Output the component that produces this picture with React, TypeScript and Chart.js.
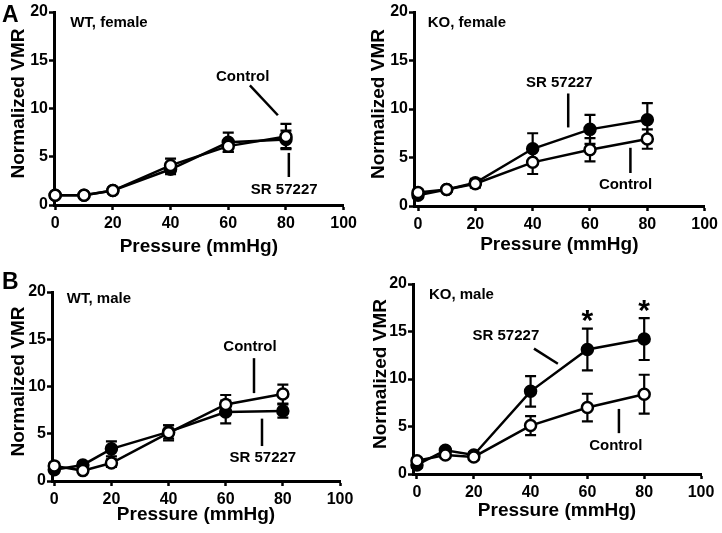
import React, { useEffect, useRef } from "react";
import { Chart, registerables } from "chart.js";

Chart.register(...registerables);

const FONT = '"Liberation Sans", Arial, Helvetica, sans-serif';

// ---- data ----
const pressure = [0, 10, 20, 40, 60, 80];
const xTickValues = [0, 20, 40, 60, 80, 100];
const yTickValues = [0, 5, 10, 15, 20];

const wtFemaleControl = [1.0, 1.0, 1.5, 4.1, 6.1, 7.1];
const wtFemaleControlSem = [0.2, 0.2, 0.3, 0.7, 0.6, 1.3];
const wtFemaleSR = [1.0, 1.0, 1.5, 3.7, 6.5, 6.8];
const wtFemaleSRSem = [0.2, 0.2, 0.2, 0.5, 1.0, 0.9];

const koFemaleControl = [1.4, 1.7, 2.3, 4.5, 5.8, 6.9];
const koFemaleControlSem = [0.3, 0.2, 0.4, 1.2, 1.2, 1.0];
const koFemaleSR = [1.1, 1.7, 2.4, 5.9, 7.9, 8.9];
const koFemaleSRSem = [0.3, 0.2, 0.4, 1.6, 1.5, 1.7];

const wtMaleControl = [1.6, 1.1, 1.9, 5.1, 8.1, 9.2];
const wtMaleControlSem = [0.3, 0.2, 0.4, 0.8, 1.0, 1.0];
const wtMaleSR = [1.2, 1.7, 3.4, 5.2, 7.3, 7.4];
const wtMaleSRSem = [0.3, 0.3, 0.8, 0.7, 1.2, 0.7];

const koMaleControl = [1.4, 2.0, 1.8, 5.1, 7.0, 8.4];
const koMaleControlSem = [0.3, 0.3, 0.3, 1.0, 1.45, 2.05];
const koMaleSR = [0.95, 2.5, 2.0, 8.7, 13.1, 14.2];
const koMaleSRSem = [0.3, 0.3, 0.3, 1.6, 2.2, 2.2];
const koMaleSignificant = [60, 80];

const xAxisTitle = "Pressure (mmHg)";
const yAxisTitle = "Normalized VMR";
const controlName = "Control";
const drugName = "SR 57227";

type Label = { text: string; x: number; y: number; align?: CanvasTextAlign };
type Leader = { x1: number; y1: number; x2: number; y2: number };

interface PanelSpec {
  box: { left: number; top: number; width: number; height: number };
  area: { left: number; top: number; right: number; bottom: number };
  xMin: number;
  letter?: { text: string; x: number; y: number };
  title: Label;
  labels: Label[];
  leaders: Leader[];
  control: number[];
  controlSem: number[];
  sr: number[];
  srSem: number[];
  stars?: number[];
  xTitleY: number;
  yTitleX: number;
}

const panels: PanelSpec[] = [
  {
    box: { left: 0, top: 0, width: 361, height: 266 },
    area: { left: 54, top: 12, right: 344, bottom: 205 },
    xMin: -0.4,
    letter: { text: "A", x: 2, y: 22 },
    title: { text: "WT, female", x: 5.2, y: 18.9, align: "left" },
    labels: [
      { text: controlName, x: 65, y: 13.3 },
      { text: drugName, x: 79.4, y: 1.55 },
    ],
    leaders: [
      { x1: 67.5, y1: 12.4, x2: 77.2, y2: 9.3 },
      { x1: 81, y1: 5.4, x2: 81, y2: 2.9 },
    ],
    control: wtFemaleControl,
    controlSem: wtFemaleControlSem,
    sr: wtFemaleSR,
    srSem: wtFemaleSRSem,
    xTitleY: 247,
    yTitleX: 19,
  },
  {
    box: { left: 361, top: 0, width: 361, height: 266 },
    area: { left: 53, top: 12, right: 347, bottom: 206 },
    xMin: -1.4,
    title: { text: "KO, female", x: 3.4, y: 18.9, align: "left" },
    labels: [
      { text: drugName, x: 49.3, y: 12.7 },
      { text: controlName, x: 72.4, y: 2.2 },
    ],
    leaders: [
      { x1: 52.4, y1: 11.6, x2: 52.4, y2: 8.1 },
      { x1: 74.1, y1: 6.0, x2: 74.1, y2: 3.4 },
    ],
    control: koFemaleControl,
    controlSem: koFemaleControlSem,
    sr: koFemaleSR,
    srSem: koFemaleSRSem,
    xTitleY: 245,
    yTitleX: 18,
  },
  {
    box: { left: 0, top: 266, width: 361, height: 267 },
    area: { left: 52, top: 26, right: 340, bottom: 215 },
    xMin: -0.8,
    letter: { text: "B", x: 2, y: 23 },
    title: { text: "WT, male", x: 4.4, y: 19.3, align: "left" },
    labels: [
      { text: controlName, x: 68.5, y: 14.2 },
      { text: drugName, x: 73, y: 2.4 },
    ],
    leaders: [
      { x1: 69.9, y1: 13.0, x2: 69.9, y2: 9.3 },
      { x1: 72.7, y1: 6.6, x2: 72.7, y2: 3.7 },
    ],
    control: wtMaleControl,
    controlSem: wtMaleControlSem,
    sr: wtMaleSR,
    srSem: wtMaleSRSem,
    xTitleY: 249,
    yTitleX: 18.5,
  },
  {
    box: { left: 361, top: 266, width: 361, height: 267 },
    area: { left: 52, top: 18, right: 340, bottom: 208 },
    xMin: -1.4,
    title: { text: "KO, male", x: 4.2, y: 18.9, align: "left" },
    labels: [
      { text: drugName, x: 31.3, y: 14.5 },
      { text: controlName, x: 70, y: 2.95 },
    ],
    leaders: [
      { x1: 41.2, y1: 13.2, x2: 49.6, y2: 11.6 },
      { x1: 71.1, y1: 6.85, x2: 71.1, y2: 4.3 },
    ],
    control: koMaleControl,
    controlSem: koMaleControlSem,
    sr: koMaleSR,
    srSem: koMaleSRSem,
    stars: koMaleSignificant,
    xTitleY: 245,
    yTitleX: 19.5,
  },
];

function makePlugin(spec: PanelSpec) {
  return {
    id: "panelExtras",
    beforeDatasetsDraw(chart: any) {
      const ctx = chart.ctx;
      const ys = chart.scales.y;
      ctx.save();
      ctx.strokeStyle = "#000";
      ctx.lineWidth = 2.2;
      ctx.lineCap = "butt";
      // draw SR error bars first, then control
      [1, 0].forEach((di) => {
        const ds = chart.data.datasets[di];
        const meta = chart.getDatasetMeta(di);
        meta.data.forEach((pt: any, i: number) => {
          const v = ds.data[i].y;
          const e = ds.errors[i];
          const x = pt.x;
          const yT = ys.getPixelForValue(v + e);
          const yB = ys.getPixelForValue(v - e);
          const cap = 5.5;
          ctx.beginPath();
          ctx.moveTo(x, yT);
          ctx.lineTo(x, yB);
          ctx.moveTo(x - cap, yT);
          ctx.lineTo(x + cap, yT);
          ctx.moveTo(x - cap, yB);
          ctx.lineTo(x + cap, yB);
          ctx.stroke();
        });
      });
      ctx.restore();
    },
    afterDraw(chart: any) {
      const ctx = chart.ctx;
      const xs = chart.scales.x;
      const ys = chart.scales.y;
      const ca = chart.chartArea;
      ctx.save();
      ctx.fillStyle = "#000";
      ctx.strokeStyle = "#000";
      // panel title
      ctx.font = `bold 15px ${FONT}`;
      ctx.textBaseline = "middle";
      ctx.textAlign = spec.title.align || "left";
      ctx.fillText(spec.title.text, xs.getPixelForValue(spec.title.x), ys.getPixelForValue(spec.title.y));
      // labels
      spec.labels.forEach((l) => {
        ctx.textAlign = l.align || "center";
        ctx.fillText(l.text, xs.getPixelForValue(l.x), ys.getPixelForValue(l.y));
      });
      // leader lines
      ctx.lineWidth = 2.5;
      spec.leaders.forEach((ln) => {
        ctx.beginPath();
        ctx.moveTo(xs.getPixelForValue(ln.x1), ys.getPixelForValue(ln.y1));
        ctx.lineTo(xs.getPixelForValue(ln.x2), ys.getPixelForValue(ln.y2));
        ctx.stroke();
      });
      // significance stars
      if (spec.stars) {
        ctx.font = `bold 30px ${FONT}`;
        ctx.textAlign = "center";
        ctx.textBaseline = "alphabetic";
        spec.stars.forEach((sx) => {
          const i = pressure.indexOf(sx);
          const top = spec.sr[i] + spec.srSem[i] + 1.0;
          const cy = ys.getPixelForValue(top);
          ctx.fillText("*", xs.getPixelForValue(sx), cy + 11);
        });
      }
      // axis titles
      ctx.font = `bold 19px ${FONT}`;
      ctx.textAlign = "center";
      ctx.textBaseline = "middle";
      ctx.fillText(xAxisTitle, (ca.left + ca.right) / 2, spec.xTitleY);
      ctx.save();
      ctx.translate(spec.yTitleX, (ca.top + ca.bottom) / 2 - 5);
      ctx.rotate(-Math.PI / 2);
      ctx.fillText(yAxisTitle, 0, 0);
      ctx.restore();
      // panel letter
      if (spec.letter) {
        ctx.font = `bold 23px ${FONT}`;
        ctx.textAlign = "left";
        ctx.textBaseline = "alphabetic";
        ctx.fillText(spec.letter.text, spec.letter.x, spec.letter.y);
      }
      ctx.restore();
    },
  };
}

function Panel({ spec }: { spec: PanelSpec }) {
  const ref = useRef<HTMLCanvasElement>(null);
  useEffect(() => {
    const canvas = ref.current;
    if (!canvas) return;
    const { box, area } = spec;
    const tickFont = { family: FONT, size: 16, weight: "bold" as const };
    const common = {
      borderColor: "#000",
      borderWidth: 2.5,
      pointRadius: 5.5,
      pointBorderWidth: 2.5,
      pointBorderColor: "#000",
      pointHoverRadius: 5.5,
      tension: 0,
      clip: false as const,
      fill: false,
    };
    const chart = new Chart(canvas, {
      type: "line",
      data: {
        datasets: [
          {
            ...common,
            label: controlName,
            data: pressure.map((x, i) => ({ x, y: spec.control[i] })),
            errors: spec.controlSem,
            pointBackgroundColor: "#fff",
            order: 0,
          } as any,
          {
            ...common,
            label: drugName,
            data: pressure.map((x, i) => ({ x, y: spec.sr[i] })),
            errors: spec.srSem,
            pointBackgroundColor: "#000",
            order: 1,
          } as any,
        ],
      },
      options: {
        animation: false,
        responsive: false,
        maintainAspectRatio: false,
        events: [],
        layout: {
          padding: { top: area.top, right: box.width - area.right, left: 0, bottom: 0 },
        },
        plugins: { legend: { display: false }, tooltip: { enabled: false } },
        scales: {
          x: {
            type: "linear",
            min: spec.xMin,
            max: 100,
            afterBuildTicks: (s: any) => {
              s.ticks = xTickValues.map((v) => ({ value: v }));
            },
            afterFit: (s: any) => {
              s.height = box.height - area.bottom;
            },
            ticks: { font: tickFont, color: "#000", padding: 4, maxRotation: 0, autoSkip: false },
            grid: {
              display: true,
              drawOnChartArea: false,
              drawTicks: true,
              tickLength: 5,
              tickWidth: 2.5,
              tickColor: "#000",
              color: "#000",
            },
            border: { display: true, color: "#000", width: 3 },
          },
          y: {
            type: "linear",
            min: 0,
            max: 20,
            afterBuildTicks: (s: any) => {
              s.ticks = yTickValues.map((v) => ({ value: v }));
            },
            afterFit: (s: any) => {
              s.width = area.left;
            },
            ticks: { font: tickFont, color: "#000", padding: 1, autoSkip: false },
            grid: {
              display: true,
              drawOnChartArea: false,
              drawTicks: true,
              tickLength: 5,
              tickWidth: 2.5,
              tickColor: "#000",
              color: "#000",
            },
            border: { display: true, color: "#000", width: 3 },
          },
        },
      } as any,
      plugins: [makePlugin(spec)],
    });
    return () => chart.destroy();
  }, [spec]);
  return (
    <canvas
      ref={ref}
      width={spec.box.width}
      height={spec.box.height}
      style={{
        position: "absolute",
        left: spec.box.left,
        top: spec.box.top,
        width: spec.box.width,
        height: spec.box.height,
      }}
    />
  );
}

export default function App() {
  return (
    <div
      style={{
        position: "absolute",
        left: 0,
        top: 0,
        width: 722,
        height: 533,
        background: "#fff",
        overflow: "hidden",
      }}
    >
      {panels.map((p, i) => (
        <Panel key={i} spec={p} />
      ))}
    </div>
  );
}
